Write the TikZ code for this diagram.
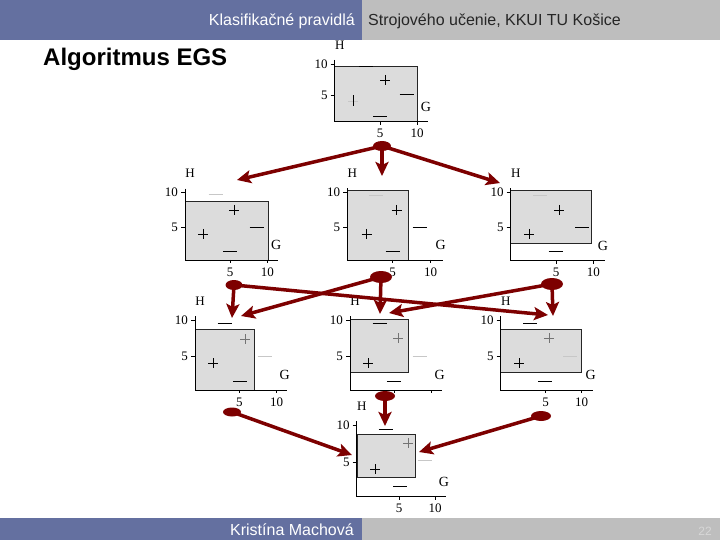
\documentclass[tikz,border=0pt]{standalone}
\usepackage{fontspec}
\setmainfont{Liberation Sans}
\newfontfamily\serifnum{Liberation Serif}
\usetikzlibrary{arrows.meta,shapes.geometric}
\definecolor{headblue}{RGB}{100,112,160}
\definecolor{headgray}{RGB}{190,190,190}
\definecolor{boxgray}{RGB}{220,220,220}
\definecolor{arrred}{RGB}{125,0,0}
\definecolor{numgray}{RGB}{215,215,215}
\newcommand\egsplus[3][sgn]{\draw[#1] (#2-5,#3) -- (#2+5,#3) (#2,#3-5) -- (#2,#3+5);}
\newcommand\egsminus[3][sgn]{\draw[#1] (#2-7,#3) -- (#2+7,#3);}
% name, ax, ay, xend, y10, y5, x5, x10
\newcommand\egsaxes[8]{%
 \draw[axis] (#2,#5-4) -- (#2,#3) -- (#4,#3);
 \draw[axis] (#2-4,#5) -- (#2,#5) (#2-4,#6) -- (#2,#6) (#7,#3) -- (#7,#3+3) (#8,#3) -- (#8,#3+3);
 \node[lab,anchor=east] (#1-y10) at (#2-7,#5) {10};
 \node[lab,anchor=east] (#1-y5) at (#2-7,#6) {5};
 \node[lab] (#1-H) at (#2+5,#5-19) {H};
 \node[lab,font=\serifnum\fontsize{14bp}{14bp}\selectfont] (#1-G) at (#4-2,#3-15) {G};
}
% name, ay, x5, x10
\newcommand\egsxlabs[4]{%
 \node[lab] (#1-x5) at (#3,#2+12) {5};
 \node[lab] (#1-x10) at (#4,#2+12) {10};
}
\begin{document}
\begin{tikzpicture}[x=1bp,y=-1bp,
  axis/.style={line width=0.7bp, black},
  box/.style={fill=boxgray, draw=black!85, line width=0.8bp},
  sgn/.style={line width=0.8bp, black},
  faint/.style={line width=0.8bp, black!22},
  thinsgn/.style={line width=0.6bp, black!55},
  lab/.style={font=\serifnum\fontsize{13bp}{13bp}\selectfont, inner sep=0pt},
  blob/.style={ellipse, fill=arrred, inner sep=0pt},
  arr/.style={draw=arrred, line width=3.5bp, -{Stealth[length=14bp,width=13bp,inset=3bp]}},
  headtxt/.style={font=\fontsize{16bp}{18bp}\selectfont, inner sep=0pt}]
\useasboundingbox (0,0) rectangle (720,540);
\fill[white] (0,0) rectangle (720,540);
% header and footer
\fill[headblue] (0,0) rectangle (362,40);
\fill[headgray] (362,0) rectangle (720,40);
\fill[headblue] (0,518) rectangle (362,540);
\fill[headgray] (362,518) rectangle (720,540);
\node[headtxt,anchor=base east,text=white] (hl) at (355,26) {Klasifikačné pravidlá};
\node[headtxt,anchor=base west,text=black!85] (hr) at (368,26) {Strojového učenie, KKUI TU Košice};
\node[headtxt,anchor=base east,text=white] (fl) at (354,535) {Kristína Machová};
\node[anchor=base east,inner sep=0pt,text=numgray,font=\fontsize{12bp}{14bp}\selectfont] (pg) at (712,535) {22};
\node[anchor=base west,inner sep=0pt,font=\bfseries\fontsize{24bp}{28bp}\selectfont] (title) at (43,66) {Algoritmus EGS};

% plot 1
\draw[box] (334.7,66.7) rectangle (417.3,121.7);
\egsminus{366}{66.7} \egsminus{406.5}{94.3} \egsminus{380}{116}
\egsplus{385}{80}
\draw[faint] (348,101) -- (358,101); \draw[sgn] (353,95.5) -- (353,106.5);
\egsaxes{p1}{334.7}{121.7}{428}{64}{95}{380}{417}
\egsxlabs{p1}{121.7}{380}{417}

% plot 2
\draw[box] (185,201.7) rectangle (268.3,260);
\egsminus[faint]{215.5}{194.3} \egsplus{234}{210} \egsplus{203.3}{234}
\egsminus{256.5}{227.7} \egsminus{230}{251.7}
\egsaxes{p2}{185}{260}{278.3}{192.7}{227.7}{230}{267.3}
\egsxlabs{p2}{260}{230}{267.3}

% plot 3
\draw[box] (347.3,190.7) rectangle (408.3,260);
\egsminus[faint]{375.5}{195} \egsplus{396.7}{210} \egsplus{366.7}{234}
\egsminus{419.7}{227.7} \egsminus{392.5}{251.7}
\egsaxes{p3}{347.3}{260}{442.7}{192.3}{227.7}{392.7}{430.7}
\egsxlabs{p3}{260}{392.7}{430.7}

% plot 4
\draw[box] (510.7,190.7) rectangle (591.7,243.3);
\egsminus[faint]{540}{195} \egsplus{559}{210} \egsplus{529}{234}
\egsminus{582}{227.7} \egsminus{555.5}{251.7}
\egsaxes{p4}{510.7}{260.7}{605}{192.3}{227.7}{556}{593.3}
\egsxlabs{p4}{260.7}{556}{593.3}

% plot 5
\draw[box] (195,329.3) rectangle (254.3,390);
\egsminus{224.5}{323.3} \egsplus[thinsgn]{245}{339} \egsplus{213.3}{363.3}
\egsminus[faint]{264.5}{356} \egsminus{240}{381}
\egsaxes{p5}{195}{390}{286.7}{320}{356}{239.3}{276.7}
\egsxlabs{p5}{390}{239.3}{276.7}

% plot 6
\draw[box] (350,319) rectangle (408.3,372.3);
\egsminus{379.5}{323.3} \egsplus[thinsgn]{398.3}{338.3} \egsplus{368.3}{363.3}
\egsminus[faint]{419.7}{356} \egsminus{393.8}{381}
\egsaxes{p6}{350}{390}{441.7}{320}{356}{394}{431}

% plot 7
\draw[box] (500.7,329.3) rectangle (581.7,372.3);
\egsminus{530.3}{323.3} \egsplus[thinsgn]{549.3}{338.3} \egsplus{519.3}{363.3}
\egsminus[faint]{570}{356} \egsminus{545}{381}
\egsaxes{p7}{500.7}{390}{592.7}{320}{356}{545.7}{581.7}
\egsxlabs{p7}{390}{545.7}{581.7}

% plot 8
\draw[box] (356.7,434.3) rectangle (415,477.3);
\draw[line width=1.8bp,black!85] (356.7,434.3) -- (356.7,477.3);
\egsminus{385.5}{429.3} \egsplus[thinsgn]{408.3}{443.3} \egsplus{375}{469}
\egsminus[faint]{424.5}{460.7} \egsminus{400}{486.7}
\egsaxes{p8}{356.7}{496.7}{446}{425}{462.7}{399}{435}
\egsxlabs{p8}{496.7}{399}{435}

% blobs
\node[blob,minimum width=18bp,minimum height=10bp] (b1) at (382,146) {};
\node[blob,minimum width=17bp,minimum height=10bp] (b2) at (234,285) {};
\node[blob,minimum width=22bp,minimum height=12bp] (b3) at (381,277) {};
\node[blob,minimum width=22bp,minimum height=12bp] (b4) at (552,284) {};
\node[blob,minimum width=18bp,minimum height=9bp] (b5) at (232,412) {};
\node[blob,minimum width=20bp,minimum height=10bp] (b6) at (385,396) {};
\node[blob,minimum width=20bp,minimum height=10bp] (b7) at (541,416) {};
% arrow targets
\coordinate (t2) at (237,180);
\coordinate (t3) at (382,176);
\coordinate (t4) at (500,183);
\coordinate (t5a) at (232,318);
\coordinate (t5b) at (241,316);
\coordinate (t6a) at (380,314);
\coordinate (t6b) at (389,313);
\coordinate (t7a) at (548,315);
\coordinate (t7b) at (553,316);
\coordinate (t8a) at (352,455);
\coordinate (t8b) at (385,426);
\coordinate (t8c) at (419,452);
\draw[arr] (b1.center) -- (t2);
\draw[arr] (b1.center) -- (t3);
\draw[arr] (b1.center) -- (t4);
\draw[arr] (b2.center) -- (t5a);
\draw[arr] (b2.center) -- (t7a);
\draw[arr] (b3.center) -- (t5b);
\draw[arr] (b3.center) -- (t6a);
\draw[arr] (b4.center) -- (t6b);
\draw[arr] (b4.center) -- (t7b);
\draw[arr] (b5.center) -- (t8a);
\draw[arr] (b6.center) -- (t8b);
\draw[arr] (b7.center) -- (t8c);
\end{tikzpicture}
\end{document}
